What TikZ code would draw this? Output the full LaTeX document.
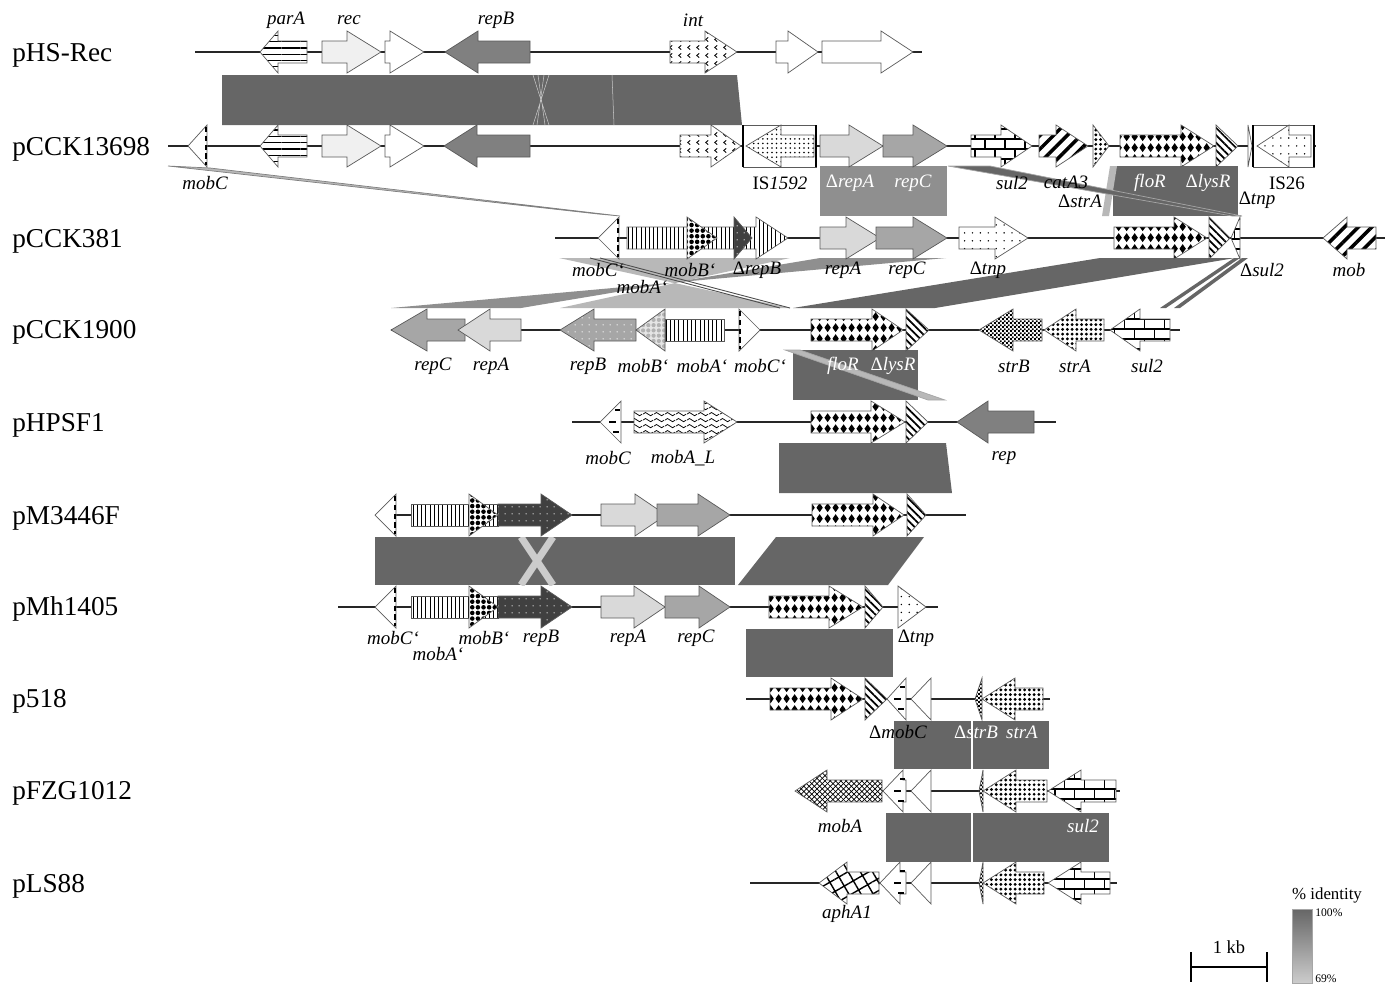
\documentclass[tikz,border=0pt]{standalone}
\usepackage{fontspec}
\setmainfont{Liberation Serif}
\usetikzlibrary{patterns,patterns.meta}
\definecolor{ribdark}{RGB}{102,102,102}
\definecolor{ribmid}{RGB}{143,143,143}
\definecolor{riblight}{RGB}{184,184,184}
\definecolor{reclt}{RGB}{240,240,240}
\definecolor{repalt}{RGB}{217,217,217}
\definecolor{repcgr}{RGB}{166,166,166}
\definecolor{repbgr}{RGB}{128,128,128}
\definecolor{repbdk}{RGB}{64,64,64}
\definecolor{outl}{RGB}{90,90,90}
\tikzdeclarepattern{
  name=diamonds, type=uncolored,
  bottom left={(0pt,0pt)}, top right={(4.6pt,6.4pt)}, tile size={(4.6pt,6.4pt)},
  code={\fill (2.3pt,0.5pt) -- (4.3pt,3.2pt) -- (2.3pt,5.9pt) -- (0.3pt,3.2pt) -- cycle;}
}
\tikzdeclarepattern{
  name=waves, type=uncolored,
  bottom left={(0pt,0pt)}, top right={(6pt,3.6pt)}, tile size={(6pt,3.6pt)},
  code={\draw[line width=0.45pt] (0pt,1.8pt) sin (1.5pt,2.8pt) cos (3pt,1.8pt) sin (4.5pt,0.8pt) cos (6pt,1.8pt);}
}
\tikzdeclarepattern{
  name=ticks, type=uncolored,
  bottom left={(0pt,0pt)}, top right={(5pt,4.5pt)}, tile size={(5pt,4.5pt)},
  code={\draw[line width=0.5pt] (3pt,0.8pt) -- (1.6pt,2pt) -- (3pt,3.2pt);}
}
\tikzdeclarepattern{
  name=finecheck, type=uncolored,
  bottom left={(0pt,0pt)}, top right={(2.4pt,2.4pt)}, tile size={(2.4pt,2.4pt)},
  code={\fill (0pt,0pt) rectangle (1.2pt,1.2pt) (1.2pt,1.2pt) rectangle (2.4pt,2.4pt);}
}
\tikzset{
  bb/.style={line width=0.9pt, black!85},
  gn/.style={draw=outl, line width=0.4pt},
  gwhite/.style={gn, fill=white},
  glt/.style={gn, fill=reclt},
  grepa/.style={gn, fill=repalt},
  grepc/.style={gn, fill=repcgr},
  grepb/.style={gn, fill=repbgr},
  ghline/.style={gn, preaction={fill=white}, pattern={Lines[angle=0,distance=3.6pt,line width=0.7pt]}},
  gvline/.style={gn, preaction={fill=white}, pattern={Lines[angle=90,distance=2.4pt,line width=0.45pt]}},
  gcat/.style={gn, preaction={fill=white}, pattern={Lines[angle=45,distance=5.5pt,line width=2pt]}},
  glys/.style={gn, preaction={fill=white}, pattern={Lines[angle=-45,distance=3pt,line width=1pt]}},
  gdot/.style={gn, preaction={fill=white}, pattern={Dots[radius=0.45pt,distance=4.5pt]}},
  gdense/.style={gn, preaction={fill=white}, pattern={Dots[radius=0.5pt,distance=2.6pt]}},
  gstra/.style={gn, preaction={fill=white}, pattern={Dots[radius=0.9pt,distance=2.7pt]}},
  gstrb/.style={gn, preaction={fill=white}, pattern=finecheck},
  gsul/.style={gn, preaction={fill=white}, pattern=bricks},
  gflor/.style={gn, preaction={fill=white}, pattern=diamonds},
  gwave/.style={gn, preaction={fill=white}, pattern=waves},
  gint/.style={gn, preaction={fill=white}, pattern=ticks},
  gcross/.style={gn, preaction={fill=white}, pattern=crosshatch},
  gmaze/.style={gn, preaction={fill=white}, pattern={Hatch[angle=30,distance=6pt,line width=0.8pt]}},
  gmobb/.style={gn, preaction={fill=white}, pattern={Dots[radius=1.3pt,distance=3.2pt]}},
  gmobblt/.style={gn, preaction={fill=gray!20}, pattern={Dots[radius=1.2pt,distance=3pt]}, pattern color=gray!60},
  gdkdot/.style={gn, preaction={fill=repbdk}, pattern={Dots[radius=0.4pt,distance=4pt]}, pattern color=white},
  grdot/.style={gn, preaction={fill=repcgr}, pattern={Dots[radius=0.45pt,distance=4pt]}, pattern color=white},
  rdk/.style={fill=ribdark},
  rmd/.style={fill=ribmid},
  rlt/.style={fill=riblight},
  hair/.style={gray!45, line width=0.3pt},
  isbar/.style={line width=1.3pt},
  pname/.style={font=\fontsize{15.5}{18}\selectfont, anchor=west, inner sep=0pt},
  glab/.style={font=\fontsize{10.8}{13}\selectfont\itshape, inner sep=0pt},
  wlab/.style={glab, text=white},
  lgd/.style={font=\fontsize{9.6}{11}\selectfont, inner sep=0pt},
}
\newcommand{\dl}{{\upshape Δ}}
\newcommand{\genearrow}[5][]{%
  \pgfmathsetmacro{\gbase}{#3-sign(#3-#2)*min(#5,abs(#3-#2))}%
  \draw[#1] (#2,#4-11) -- (\gbase,#4-11) -- (\gbase,#4-21) -- (#3,#4) -- (\gbase,#4+21) -- (\gbase,#4+11) -- (#2,#4+11) -- cycle;}
\newcommand{\mobdash}[2]{\draw[line width=1.2pt, dash pattern=on 3pt off 2pt] (#1,#2-19) -- (#1,#2+19);}
\newcommand{\mobtick}[2]{\draw[line width=1.1pt] (#1-6,#2-12) -- (#1-1,#2-12) (#1-12,#2) -- (#1-5,#2) (#1-8,#2+10) -- (#1-2,#2+10);}
\begin{document}
\begin{tikzpicture}[x=0.02cm, y=-0.02cm]
\useasboundingbox (0,0) rectangle (1397,984);

\fill[rdk] (222,75) -- (737,75) -- (742,125) -- (222,125) -- cycle;
\draw[hair] (533,75) -- (549,125) (538,75) -- (545,125) (549,75) -- (533,125) (544,75) -- (537,125) (612,75) -- (614,125);

\fill[rlt, draw=gray] (168,166) -- (210,168) -- (620,216) -- (598,214) -- cycle;
\fill[rmd] (820,166) rectangle (947,216);
\fill[rdk] (1113,166) rectangle (1238,216);
\fill[rlt] (1110,166) -- (1117,166) -- (1109,216) -- (1102,216) -- cycle;
\fill[rdk, draw=gray!70] (948,166) -- (990,166) -- (1242,216) -- (1232,216) -- cycle;

\fill[rlt] (559,258) -- (790,258) -- (560,308) -- (790,308) -- cycle;
\fill[rmd] (820,258) -- (946,258) -- (391,308) -- (521,308) -- cycle;
\draw[gray!60!black, line width=0.5pt] (590,258) -- (780,308) (600,258) -- (790,308);
\fill[rdk] (1100,258) -- (1235,258) -- (935,308) -- (793,308) -- cycle;
\fill[rdk] (1234,258) -- (1240,258) -- (1166,308) -- (1160,308) -- cycle;
\fill[rdk] (1242,258) -- (1248,258) -- (1180,308) -- (1174,308) -- cycle;

\fill[rdk] (793,350) rectangle (918,400);
\fill[rlt, draw=gray!70] (785,350) -- (800,350) -- (945,400) -- (928,400) -- cycle;

\fill[rdk] (779,443) -- (946,443) -- (952,493) -- (779,493) -- cycle;

\fill[rdk] (375,537) rectangle (735,585);
\begin{scope}
  \clip (375,537) rectangle (735,585);
  \draw[gray!40, line width=4pt] (521,537) -- (553,585) (553,537) -- (521,585);
\end{scope}
\fill[rdk] (776,537) -- (924,537) -- (888,585) -- (738,585) -- cycle;

\fill[rdk] (746,629) rectangle (893,677);

\fill[rdk] (894,721) rectangle (971,769);
\fill[rdk] (973,721) rectangle (1049,769);

\fill[rdk] (886,813) rectangle (971,862);
\fill[rdk] (973,813) rectangle (1109,862);

\draw[bb] (195,52) -- (922,52);
\genearrow[ghline]{307}{260}{52}{18}
\genearrow[glt]{322}{381}{52}{34}
\genearrow[gwhite]{385}{424}{52}{34}
\genearrow[grepb]{530}{445}{52}{33}
\genearrow[gint]{670}{737}{52}{32}
\genearrow[gwhite]{776}{818}{52}{30}
\genearrow[gwhite]{822}{913}{52}{32}

\draw[bb] (168,146) -- (1316,146);
\genearrow[gwhite]{207}{188}{146}{19}
\mobdash{206}{146}
\genearrow[ghline]{307}{260}{146}{18}
\genearrow[glt]{322}{381}{146}{34}
\genearrow[gwhite]{385}{424}{146}{34}
\genearrow[grepb]{530}{444}{146}{33}
\genearrow[gint]{680}{741}{146}{30}
\draw[gwhite] (743,125) rectangle (816,167);
\draw[isbar] (743,125) -- (743,167) (816,125) -- (816,167);
\genearrow[gdense]{814}{746}{146}{35}
\genearrow[grepa]{820}{883}{146}{34}
\genearrow[grepc]{883}{947}{146}{34}
\genearrow[gsul]{971}{1032}{146}{31}
\genearrow[gcat]{1039}{1088}{146}{32}
\genearrow[gstra]{1093}{1109}{146}{16}
\genearrow[gflor]{1120}{1214}{146}{33}
\genearrow[glys]{1216}{1238}{146}{22}
\genearrow[gwhite]{1248}{1252}{146}{4}
\draw[gwhite] (1253,125) rectangle (1314,167);
\draw[isbar] (1253,125) -- (1253,167) (1314,125) -- (1314,167);
\genearrow[gdot]{1311}{1257}{146}{32}

\draw[bb] (555,238) -- (1385,238);
\genearrow[gwhite]{619}{598}{238}{21}
\mobdash{618}{238}
\genearrow[gvline]{627}{788}{238}{32}
\genearrow[gmobb]{687}{717}{238}{30}
\genearrow[gdkdot]{734}{752}{238}{18}
\genearrow[grepa]{820}{880}{238}{34}
\genearrow[grepc]{876}{947}{238}{34}
\genearrow[gdot]{959}{1028}{238}{33}
\genearrow[gflor]{1114}{1207}{238}{33}
\genearrow[glys]{1209}{1230}{238}{21}
\genearrow[gsul]{1240}{1231}{238}{9}
\genearrow[gcat]{1376}{1323}{238}{24}

\draw[bb] (391,330) -- (1180,330);
\genearrow[grepc]{465}{391}{330}{36}
\genearrow[grepa]{521}{458}{330}{32}
\genearrow[grdot]{636}{560}{330}{34}
\genearrow[gmobblt]{665}{636}{330}{29}
\draw[gvline] (665,319) rectangle (724,341);
\genearrow[gwhite]{739}{760}{330}{21}
\mobdash{740}{330}
\genearrow[gflor]{811}{903}{330}{31}
\genearrow[glys]{906}{929}{330}{23}
\genearrow[gstrb]{1042}{979}{330}{34}
\genearrow[gstra]{1104}{1044}{330}{32}
\genearrow[gsul]{1170}{1110}{330}{30}

\draw[bb] (572,422) -- (1056,422);
\genearrow[gwhite]{621}{600}{422}{21}
\mobtick{621}{422}
\genearrow[gwave]{634}{737}{422}{33}
\genearrow[gflor]{811}{905}{422}{34}
\genearrow[glys]{906}{928}{422}{22}
\genearrow[grepb]{1034}{957}{422}{31}

\draw[bb] (396,515) -- (966,515);
\genearrow[gwhite]{396}{375}{515}{21}
\mobdash{395}{515}
\draw[gvline] (411,504) rectangle (498,526);
\genearrow[gmobb]{469}{498}{515}{29}
\genearrow[gdkdot]{498}{572}{515}{31}
\genearrow[grepa]{601}{666}{515}{31}
\genearrow[grepc]{657}{730}{515}{32}
\genearrow[gflor]{812}{904}{515}{31}
\genearrow[glys]{907}{926}{515}{19}

\draw[bb] (338,607) -- (938,607);
\genearrow[gwhite]{396}{375}{607}{21}
\mobdash{395}{607}
\draw[gvline] (411,596) rectangle (498,618);
\genearrow[gmobb]{469}{498}{607}{29}
\genearrow[gdkdot]{498}{572}{607}{31}
\genearrow[grepa]{601}{665}{607}{31}
\genearrow[grepc]{665}{730}{607}{31}
\genearrow[gflor]{769}{863}{607}{34}
\genearrow[glys]{865}{883}{607}{18}
\genearrow[gdot]{898}{926}{607}{28}

\draw[bb] (746,699) -- (1050,699);
\genearrow[gflor]{770}{863}{699}{32}
\genearrow[glys]{865}{887}{699}{22}
\genearrow[gwhite]{906}{887}{699}{19}
\mobtick{906}{699}
\genearrow[gwhite]{931}{911}{699}{20}
\genearrow[gstrb]{982}{975}{699}{7}
\genearrow[gstra]{1043}{982}{699}{33}

\draw[bb] (882,791) -- (1120,791);
\genearrow[gcross]{882}{795}{791}{32}
\genearrow[gwhite]{906}{883}{791}{20}
\mobtick{906}{791}
\genearrow[gwhite]{931}{911}{791}{20}
\genearrow[gstrb]{983}{979}{791}{4}
\genearrow[gstra]{1047}{983}{791}{33}
\genearrow[gsul]{1116}{1048}{791}{33}

\draw[bb] (750,883) -- (1117,883);
\genearrow[gmaze]{879}{819}{883}{28}
\genearrow[gwhite]{906}{880}{883}{20}
\mobtick{906}{883}
\genearrow[gwhite]{931}{911}{883}{20}
\genearrow[gstrb]{983}{979}{883}{4}
\genearrow[gstra]{1044}{983}{883}{33}
\genearrow[gsul]{1110}{1048}{883}{33}

\node[pname] (nphs) at (12,55) {pHS-Rec};
\node[pname] (ncck13698) at (12,149) {pCCK13698};
\node[pname] (ncck381) at (12,241) {pCCK381};
\node[pname] (ncck1900) at (12,332) {pCCK1900};
\node[pname] (nhpsf) at (12,425) {pHPSF1};
\node[pname] (nm3446) at (12,518) {pM3446F};
\node[pname] (nmh1405) at (12,609) {pMh1405};
\node[pname] (n518) at (12,701) {p518};
\node[pname] (nfzg) at (12,793) {pFZG1012};
\node[pname] (nls88) at (12,886) {pLS88};

\node[glab] (lpara) at (286,20) {parA};
\node[glab] (lrec) at (349,20) {rec};
\node[glab] (lrepb) at (496,20) {repB};
\node[glab] (lint) at (693,20) {int};

\node[glab] (lmobc) at (205,183) {mobC};
\node[glab] (lis1592) at (780,183) {\upshape IS\itshape 1592};
\node[wlab] (ldrepa) at (850,183) {\dl repA};
\node[wlab] (lrepc) at (913,183) {repC};
\node[glab] (lsul) at (1012,183) {sul2};
\node[glab] (lcat) at (1066,182) {catA3};
\node[glab] (ldstra) at (1080,201) {\dl strA};
\node[wlab] (lflor) at (1150,183) {floR};
\node[wlab] (ldlysr) at (1208,183) {\dl lysR};
\node[glab] (ldtnp) at (1257,200) {\dl tnp};
\node[glab] (lis26) at (1287,183) {\upshape IS26};

\node[glab] (lmobc3) at (598,270) {mobC‘};
\node[glab] (lmobb3) at (690,270) {mobB‘};
\node[glab] (ldrepb3) at (757,270) {\dl repB};
\node[glab] (lmoba3) at (642,287) {mobA‘};
\node[glab] (lrepa3) at (843,270) {repA};
\node[glab] (lrepc3) at (907,270) {repC};
\node[glab] (ldtnp3) at (988,270) {\dl tnp};
\node[glab] (ldsul3) at (1262,270) {\dl sul2};
\node[glab] (lmob3) at (1349,270) {mob};

\node[glab] (lrepc4) at (433,366) {repC};
\node[glab] (lrepa4) at (491,366) {repA};
\node[glab] (lrepb4) at (588,366) {repB};
\node[glab] (lmobb4) at (643,366) {mobB‘};
\node[glab] (lmoba4) at (702,366) {mobA‘};
\node[glab] (lmobc4) at (760,366) {mobC‘};
\node[wlab] (lflor4) at (843,366) {floR};
\node[wlab] (ldlysr4) at (893,366) {\dl lysR};
\node[glab] (lstrb4) at (1014,366) {strB};
\node[glab] (lstra4) at (1075,366) {strA};
\node[glab] (lsul4) at (1147,366) {sul2};

\node[glab] (lmobc5) at (608,458) {mobC};
\node[glab] (lmobal5) at (683,458) {mobA\_L};
\node[glab] (lrep5) at (1004,458) {rep};

\node[glab] (lmobc7) at (393,638) {mobC‘};
\node[glab] (lmoba7) at (438,654) {mobA‘};
\node[glab] (lmobb7) at (484,638) {mobB‘};
\node[glab] (lrepb7) at (541,638) {repB};
\node[glab] (lrepa7) at (628,638) {repA};
\node[glab] (lrepc7) at (696,638) {repC};
\node[glab] (ldtnp7) at (916,638) {\dl tnp};

\node[glab] (ldmobc8) at (898,732) {\dl mobC};
\node[wlab] (ldstrb8) at (976,732) {\dl strB};
\node[wlab] (lstra8) at (1022,732) {strA};

\node[glab] (lmoba9) at (840,826) {mobA};
\node[wlab] (lsul9) at (1083,826) {sul2};

\node[glab] (laph10) at (847,914) {aphA1};

\draw[line width=0.6pt] (1191,952) -- (1191,982) (1267,952) -- (1267,982) (1191,967) -- (1267,967);
\node[lgd, font=\fontsize{10.5}{12}\selectfont] (lkb) at (1229,947) {1 kb};
\node[lgd] (lident) at (1327,895) {\% identity};
\shade[top color=ribdark, bottom color=gray!40, draw=gray!70] (1292,909) rectangle (1312,983);
\node[lgd, font=\fontsize{6.6}{8}\selectfont, anchor=west] (l100) at (1315,913) {100\%};
\node[lgd, font=\fontsize{6.6}{8}\selectfont, anchor=west] (l69) at (1315,979) {69\%};
\end{tikzpicture}
\end{document}
